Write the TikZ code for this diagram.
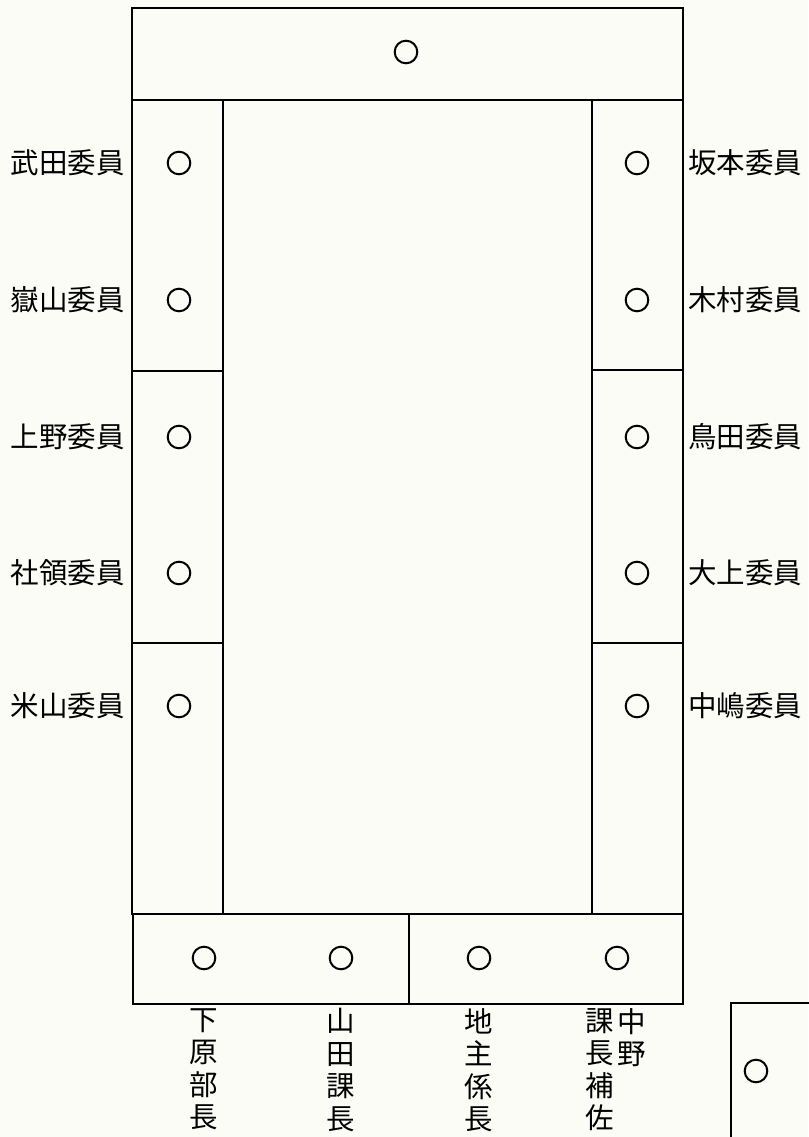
\documentclass[tikz,border=0pt]{standalone}
\usepackage{fontspec}
\setmainfont{Noto Sans CJK JP}
\begin{document}
\begin{tikzpicture}[x=1pt,y=-1pt,
  wall/.style={draw=black,line width=2.2pt},
  seat/.style={draw=black,line width=2pt},
  lbl/.style={inner sep=0pt,font=\fontsize{28.5}{32.5}\selectfont},
  vlbl/.style={inner sep=0pt,anchor=north,align=center,font=\fontsize{28.5}{32.5}\selectfont}]
\fill[fill={rgb,255:red,252;green,252;blue,246}] (0,0) rectangle (808,1137);
\useasboundingbox (0,0) rectangle (808,1137);
% top box
\draw[wall] (132,8) rectangle (683,100);
% left column
\draw[wall] (132,100) rectangle (223,914);
\draw[wall] (132,371) -- (223,371);
\draw[wall] (132,643) -- (223,643);
% right column
\draw[wall] (592,100) rectangle (683,914);
\draw[wall] (592,370) -- (683,370);
\draw[wall] (592,643) -- (683,643);
% bottom box
\draw[wall] (133,914) rectangle (683,1004);
\draw[wall] (409,914) -- (409,1004);
% side box bottom right
\draw[wall] (820,1003) -- (731,1003) -- (731,1150);
% seats
\foreach \p in {(406,52),(179,163),(179,300),(179,437),(179,573),(179,706),
  (637,163),(637,300),(637,437),(637,573),(637,706),
  (204,958),(341,958),(479,958),(617,958),(756,1071)}
  \draw[seat] \p circle (11.3);
% left labels
\node[lbl,anchor=east] (l1) at (125,163) {武田委員};
\node[lbl,anchor=east] (l2) at (125,300) {嶽山委員};
\node[lbl,anchor=east] (l3) at (125,437) {上野委員};
\node[lbl,anchor=east] (l4) at (125,573) {社領委員};
\node[lbl,anchor=east] (l5) at (125,706) {米山委員};
% right labels
\node[lbl,anchor=west] (r1) at (688,163) {坂本委員};
\node[lbl,anchor=west] (r2) at (688,300) {木村委員};
\node[lbl,anchor=west] (r3) at (688,437) {鳥田委員};
\node[lbl,anchor=west] (r4) at (688,573) {大上委員};
\node[lbl,anchor=west] (r5) at (688,706) {中嶋委員};
% bottom labels (vertical)
\node[vlbl] (b1) at (204,1008) {下\\原\\部\\長};
\node[vlbl] (b2) at (341,1008) {山\\田\\課\\長};
\node[vlbl] (b3) at (479,1008) {地\\主\\係\\長};
\node[vlbl] (b4) at (632,1008) {中\\野};
\node[vlbl] (b5) at (600,1008) {課\\長\\補\\佐};
\end{tikzpicture}
\end{document}
